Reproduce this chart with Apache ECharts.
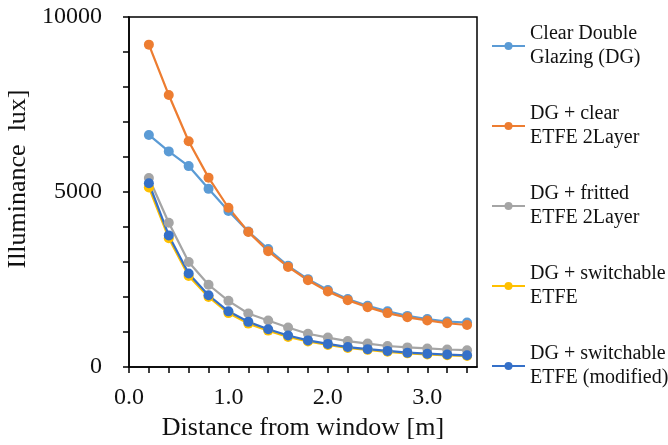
<!DOCTYPE html>
<html>
<head>
<meta charset="utf-8">
<script src="https://cdn.jsdelivr.net/npm/echarts@6/dist/echarts.min.js"></script>
<style>
html,body{margin:0;padding:0;background:#fff;}
#chart{width:668px;height:445px;}
</style>
</head>
<body>
<div id="chart"></div>
<script>
// Distance from window [m]
const distance = [0.2, 0.4, 0.6, 0.8, 1.0, 1.2, 1.4, 1.6, 1.8, 2.0, 2.2, 2.4, 2.6, 2.8, 3.0, 3.2, 3.4];
// Illuminance [lux]
const clearDG        = [6630, 6160, 5740, 5090, 4460, 3870, 3370, 2890, 2510, 2200, 1940, 1750, 1590, 1460, 1370, 1300, 1270];
const clearETFE      = [9210, 7770, 6450, 5410, 4550, 3860, 3310, 2860, 2480, 2160, 1910, 1710, 1540, 1420, 1330, 1250, 1200];
const frittedETFE    = [5400, 4120, 3000, 2350, 1890, 1530, 1330, 1130, 950, 840, 740, 670, 600, 560, 530, 500, 480];
const switchableETFE = [5130, 3680, 2600, 2000, 1540, 1240, 1040, 860, 730, 630, 545, 490, 435, 390, 360, 335, 315];
const modifiedETFE   = [5250, 3760, 2670, 2050, 1590, 1290, 1080, 900, 760, 660, 570, 510, 460, 410, 380, 355, 335];

const seriesNames = [
  'Clear Double\nGlazing (DG)',
  'DG + clear\nETFE 2Layer',
  'DG + fritted\nETFE 2Layer',
  'DG + switchable\nETFE',
  'DG + switchable\nETFE (modified)'
];
const seriesValues = [clearDG, clearETFE, frittedETFE, switchableETFE, modifiedETFE];
const seriesColors = ['#5B9BD5', '#ED7D31', '#A5A5A5', '#FFC000', '#3570C8'];

const xTickValues = [0, 0.2, 0.4, 0.6, 0.8, 1.0, 1.2, 1.4, 1.6, 1.8, 2.0, 2.2, 2.4, 2.6, 2.8, 3.0, 3.2, 3.4];
const xLabelValues = [0, 1, 2, 3];
const yLabelValues = [0, 5000, 10000];

const FONT = 'Liberation Serif';
const INK = '#111';

const chart = echarts.init(document.getElementById('chart'), null, {renderer: 'canvas'});
chart.setOption({
  animation: false,
  backgroundColor: '#fff',
  color: seriesColors,
  textStyle: {fontFamily: FONT},
  grid: {
    left: 129, right: 191, top: 17, bottom: 78,
    show: true, borderColor: '#000', borderWidth: 1.5,
    containLabel: false, outerBoundsMode: 'none'
  },
  legend: {
    orient: 'vertical',
    left: 491, top: 10,
    itemWidth: 33, itemHeight: 10, itemGap: 8,
    padding: 0,
    textStyle: {fontFamily: FONT, fontSize: 20, lineHeight: 24, color: INK, padding: [24, 0, 0, 0]},
    data: seriesNames
  },
  xAxis: {
    type: 'value', min: 0, max: 3.5, interval: 0.2,
    name: 'Distance from window [m]',
    nameLocation: 'middle', nameGap: 48,
    nameTextStyle: {fontFamily: FONT, fontSize: 26, color: INK},
    axisLine: {show: true, lineStyle: {color: '#000', width: 1.5}},
    axisTick: {show: true, customValues: xTickValues, length: 6, lineStyle: {color: '#000', width: 1.5}},
    axisLabel: {customValues: xLabelValues, formatter: v => Number(v).toFixed(1), fontFamily: FONT, fontSize: 24, color: INK, margin: 19},
    splitLine: {show: false}
  },
  yAxis: {
    type: 'value', min: 0, max: 10000, interval: 1000,
    name: 'Illuminance  lux]',
    nameLocation: 'middle', nameGap: 90,
    nameTextStyle: {fontFamily: FONT, fontSize: 26, color: INK, padding: [0, 0, 0, 26]},
    axisLine: {show: true, lineStyle: {color: '#000', width: 1.5}},
    axisTick: {show: true, length: 6, lineStyle: {color: '#000', width: 1.5}},
    axisLabel: {customValues: yLabelValues, formatter: v => String(Math.round(v)), fontFamily: FONT, fontSize: 24, color: INK, margin: 27},
    splitLine: {show: false}
  },
  series: seriesNames.map((name, i) => ({
    name: name,
    type: 'line',
    data: distance.map((d, j) => [d, seriesValues[i][j]]),
    symbol: 'circle',
    symbolSize: 10,
    lineStyle: {width: 2.25, color: seriesColors[i]},
    itemStyle: {color: seriesColors[i]},
    emphasis: {disabled: true}
  }))
});
</script>
</body>
</html>
